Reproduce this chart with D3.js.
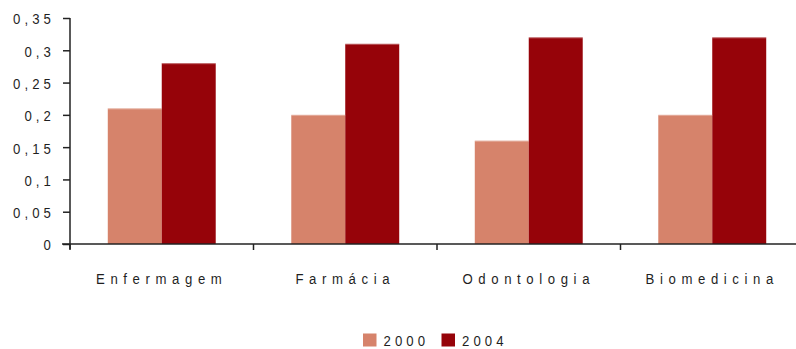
<!DOCTYPE html>
<html>
<head>
<meta charset="utf-8">
<script src="https://cdn.jsdelivr.net/npm/d3@7"></script>
<style>
  html, body { margin: 0; padding: 0; background: #fff; }
  svg { display: block; }
  text { font-family: "Liberation Sans", Arial, sans-serif; fill: #1f1f1f; }
</style>
</head>
<body>
<svg id="chart" width="796" height="349"></svg>
<script>
const categories = ["Enfermagem", "Farmácia", "Odontologia", "Biomedicina"];
const seriesNames = ["2000", "2004"];
const values2000 = [0.21, 0.20, 0.16, 0.20];
const values2004 = [0.28, 0.31, 0.32, 0.32];
const yTicks = [0, 0.05, 0.1, 0.15, 0.2, 0.25, 0.3, 0.35];
const yTickLabels = ["0", "0,05", "0,1", "0,15", "0,2", "0,25", "0,3", "0,35"];
const colors = ["#D6836B", "#960309"];

const svg = d3.select("#chart");
const plotLeft = 70, plotRight = 804, plotTop = 18, plotBottom = 244;

// narrow, widely tracked lettering
const FONT = 15.5, SX = 0.85;
const DIGIT_SP = 4.1 / SX, WORD_SP = 5.6 / SX;

const x = d3.scaleBand().domain(categories).range([plotLeft, plotRight]).paddingInner(0).paddingOuter(0);
const xSub = d3.scaleBand().domain(seriesNames).range([0, x.bandwidth()]).paddingInner(0).paddingOuter(0.7);
const y = d3.scaleLinear().domain([0, 0.35]).range([plotBottom, plotTop]);

const rows = categories.map((c, i) => ({ cat: c, vals: [values2000[i], values2004[i]] }));

// bars
const groups = svg.append("g").selectAll("g").data(rows).join("g")
  .attr("transform", d => `translate(${x(d.cat)},0)`);
groups.selectAll("rect")
  .data(d => d.vals.map((v, k) => ({ key: seriesNames[k], v, k })))
  .join("rect")
  .attr("x", d => xSub(d.key))
  .attr("width", xSub.bandwidth())
  .attr("y", d => y(d.v))
  .attr("height", d => y(0) - y(d.v))
  .attr("fill", d => colors[d.k]);
// faint light rim along the bar tops
groups.selectAll("line.rim")
  .data(d => d.vals.map((v, k) => ({ key: seriesNames[k], v, k })))
  .join("line")
  .attr("class", "rim")
  .attr("x1", d => xSub(d.key)).attr("x2", d => xSub(d.key) + xSub.bandwidth())
  .attr("y1", d => y(d.v) + 0.5).attr("y2", d => y(d.v) + 0.5)
  .attr("stroke", "#fff").attr("stroke-opacity", 0.35).attr("stroke-width", 1);

// y axis
const yAxis = d3.axisLeft(y).tickValues(yTicks)
  .tickFormat((d, i) => yTickLabels[i]).tickSize(7).tickPadding(8);
const gy = svg.append("g").attr("transform", `translate(${plotLeft},0)`).call(yAxis);
gy.select(".domain").attr("stroke", "#222").attr("stroke-width", 1.5)
  .attr("d", `M0,${plotTop}V${plotBottom + 5}`);
gy.selectAll(".tick line").attr("stroke", "#222").attr("stroke-width", 1.5);
gy.selectAll(".tick text")
  .attr("font-size", FONT)
  .attr("font-family", null)
  .attr("letter-spacing", DIGIT_SP + "px")
  .attr("fill", "#1f1f1f")
  .attr("x", -15 / SX)
  .attr("dy", "0.38em")
  .attr("transform", `scale(${SX},1)`);

// x axis
const xAxis = d3.axisBottom(x).tickSize(0).tickFormat("");
const gx = svg.append("g").attr("transform", `translate(0,${plotBottom})`).call(xAxis);
gx.select(".domain").attr("stroke", "#222").attr("stroke-width", 1.5)
  .attr("d", `M${plotLeft - 8},0H${plotRight}`);
// category separator ticks
gx.selectAll(".sep").data(categories).join("line")
  .attr("class", "sep")
  .attr("x1", d => x(d)).attr("x2", d => x(d))
  .attr("y1", 0).attr("y2", 6)
  .attr("stroke", "#222").attr("stroke-width", 1.5);

// category labels
svg.append("g").selectAll("text").data(categories).join("text")
  .attr("transform", d => `translate(${x(d) + x.bandwidth() / 2},283.5) scale(${SX},1)`)
  .attr("text-anchor", "middle")
  .attr("font-size", FONT)
  .attr("letter-spacing", WORD_SP + "px")
  .text(d => d);

// legend
const legend = svg.append("g").attr("transform", "translate(363,333.5)");
const legendX = [0, 78.5];
seriesNames.forEach((s, i) => {
  legend.append("rect").attr("x", legendX[i]).attr("y", 0).attr("width", 13.5).attr("height", 13)
    .attr("fill", colors[i]);
  legend.append("text")
    .attr("transform", `translate(${legendX[i] + 20.5},12) scale(${SX},1)`)
    .attr("font-size", FONT).attr("letter-spacing", DIGIT_SP + "px").text(s);
});
</script>
</body>
</html>
